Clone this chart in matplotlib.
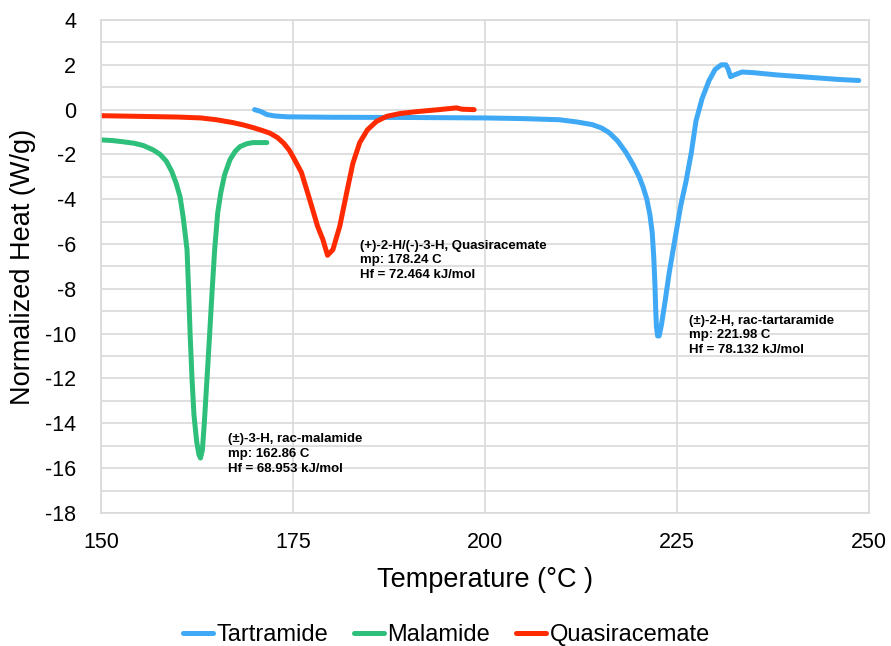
import numpy as np
import matplotlib
matplotlib.use("Agg")
import matplotlib.pyplot as plt
from matplotlib.ticker import MultipleLocator

plt.rcParams['font.family'] = ['Liberation Sans', 'DejaVu Sans']
plt.rcParams['axes.unicode_minus'] = False

# Tartramide (blue)
tart_x = [170.0, 170.8, 171.6, 172.6, 174.2, 180, 190, 200, 205, 209.7, 212, 214.0,
          215.2, 216.2, 217.3, 218.4, 219.3, 220.1, 220.6, 221.1, 221.5, 221.8, 222.0,
          222.15, 222.25, 222.35, 222.5, 222.7, 223.0, 223.5, 224.0, 224.5, 224.9, 225.5,
          226.2, 226.9, 227.5, 228.3, 229.2, 230.0, 230.8, 231.4, 231.7, 232.0, 232.5,
          233.5, 235, 238, 242, 246, 248.7]
tart_y = [0.0, -0.08, -0.22, -0.28, -0.32, -0.34, -0.35, -0.37, -0.40, -0.45, -0.55, -0.67,
          -0.82, -1.03, -1.4, -1.92, -2.45, -3.0, -3.45, -4.0, -4.7, -5.5, -6.6,
          -7.8, -8.9, -9.7, -10.1, -10.1, -9.6, -8.5, -7.3, -6.3, -5.5, -4.3,
          -3.2, -1.9, -0.5, 0.5, 1.3, 1.8, 2.0, 2.0, 1.8, 1.47, 1.55,
          1.68, 1.65, 1.55, 1.45, 1.35, 1.3]

# Malamide (green)
mal_x = [150.0, 151.5, 153, 154.3, 155.5, 156.8, 157.7, 158.5, 159.2, 159.8, 160.3, 160.7,
         161.2, 161.4, 161.6, 161.85, 162.1, 162.45, 162.75, 162.95, 163.2, 163.45, 163.75,
         164.1, 164.45, 164.8, 165.2, 165.6, 166.1, 166.8, 167.5, 168.1, 169.0, 169.8, 171.6]
mal_y = [-1.35, -1.38, -1.44, -1.5, -1.6, -1.8, -2.0, -2.3, -2.75, -3.3, -3.9, -4.8,
         -6.25, -8.0, -10.0, -12.0, -13.6, -14.8, -15.4, -15.55, -15.2, -14.0, -12.3,
         -10.3, -8.2, -6.25, -4.6, -3.7, -2.9, -2.23, -1.85, -1.65, -1.52, -1.47, -1.47]

# Quasiracemate (red)
quasi_x = [150, 155, 160, 163, 165, 167.2, 168.5, 169.8, 171.0, 172.0, 173.0, 173.8, 174.5,
           175.0, 176.1, 176.9, 177.6, 178.2, 178.9, 179.5, 180.2, 181.1, 182.0, 182.8,
           183.7, 184.7, 185.9, 187.2, 189.0, 191.1, 194, 196.3, 197.0, 198.6]
quasi_y = [-0.27, -0.3, -0.33, -0.37, -0.45, -0.58, -0.68, -0.8, -0.93, -1.05, -1.25, -1.5,
           -1.8, -2.1, -2.8, -3.7, -4.5, -5.2, -5.8, -6.5, -6.25, -5.2, -3.7, -2.4,
           -1.47, -0.9, -0.52, -0.3, -0.17, -0.09, 0.0, 0.08, 0.02, 0.0]

labels = ["Tartramide", "Malamide", "Quasiracemate"]
colors = ["#3FA9F5", "#2EBF7A", "#FF2A00"]

notes = [
    (166.5, -14.45, "(\u00b1)-3-H, rac-malamide\nmp: 162.86 C\nHf = 68.953 kJ/mol"),
    (183.7, -5.8, "(+)-2-H/(-)-3-H, Quasiracemate\nmp: 178.24 C\nHf = 72.464 kJ/mol"),
    (226.6, -9.15, "(\u00b1)-2-H, rac-tartaramide\nmp: 221.98 C\nHf = 78.132 kJ/mol"),
]

fig = plt.figure(figsize=(8.91, 6.46), dpi=100)
ax = fig.add_axes([0.1134, 0.206, 0.8616, 0.763])

series = [(tart_x, tart_y), (mal_x, mal_y), (quasi_x, quasi_y)]
for (xs, ys), lab, c in zip(series, labels, colors):
    ax.plot(xs, ys, color=c, lw=3.6, label=lab, solid_capstyle='round', solid_joinstyle='round')

for x, y, t in notes:
    ax.text(x, y, t, fontsize=9.5, fontweight='bold', va='top', ha='left', linespacing=1.3)

ax.set_xlim(150, 250)
ax.set_ylim(-18, 4)
ax.xaxis.set_major_locator(MultipleLocator(25))
ax.yaxis.set_major_locator(MultipleLocator(2))
ax.yaxis.set_minor_locator(MultipleLocator(1))
ax.grid(True, which='both', color='#d9d9d9', lw=1.2)
ax.set_axisbelow(True)
ax.tick_params(which='both', length=0, labelsize=15.5)
ax.tick_params(axis='y', pad=18)
ax.tick_params(axis='x', pad=14)
for s in ax.spines.values():
    s.set_color('#d9d9d9')
    s.set_linewidth(1.2)

ax.set_xlabel("Temperature (\u00b0C )", fontsize=19.5, labelpad=10)
ax.set_ylabel("Normalized Heat (W/g)", fontsize=19.5, labelpad=6)

fig.legend(loc='center', bbox_to_anchor=(0.501, 0.017), ncol=3, frameon=False,
           fontsize=17, handlelength=1.27, handletextpad=0.15, columnspacing=1.1)

fig.savefig("out.png", dpi=100)
